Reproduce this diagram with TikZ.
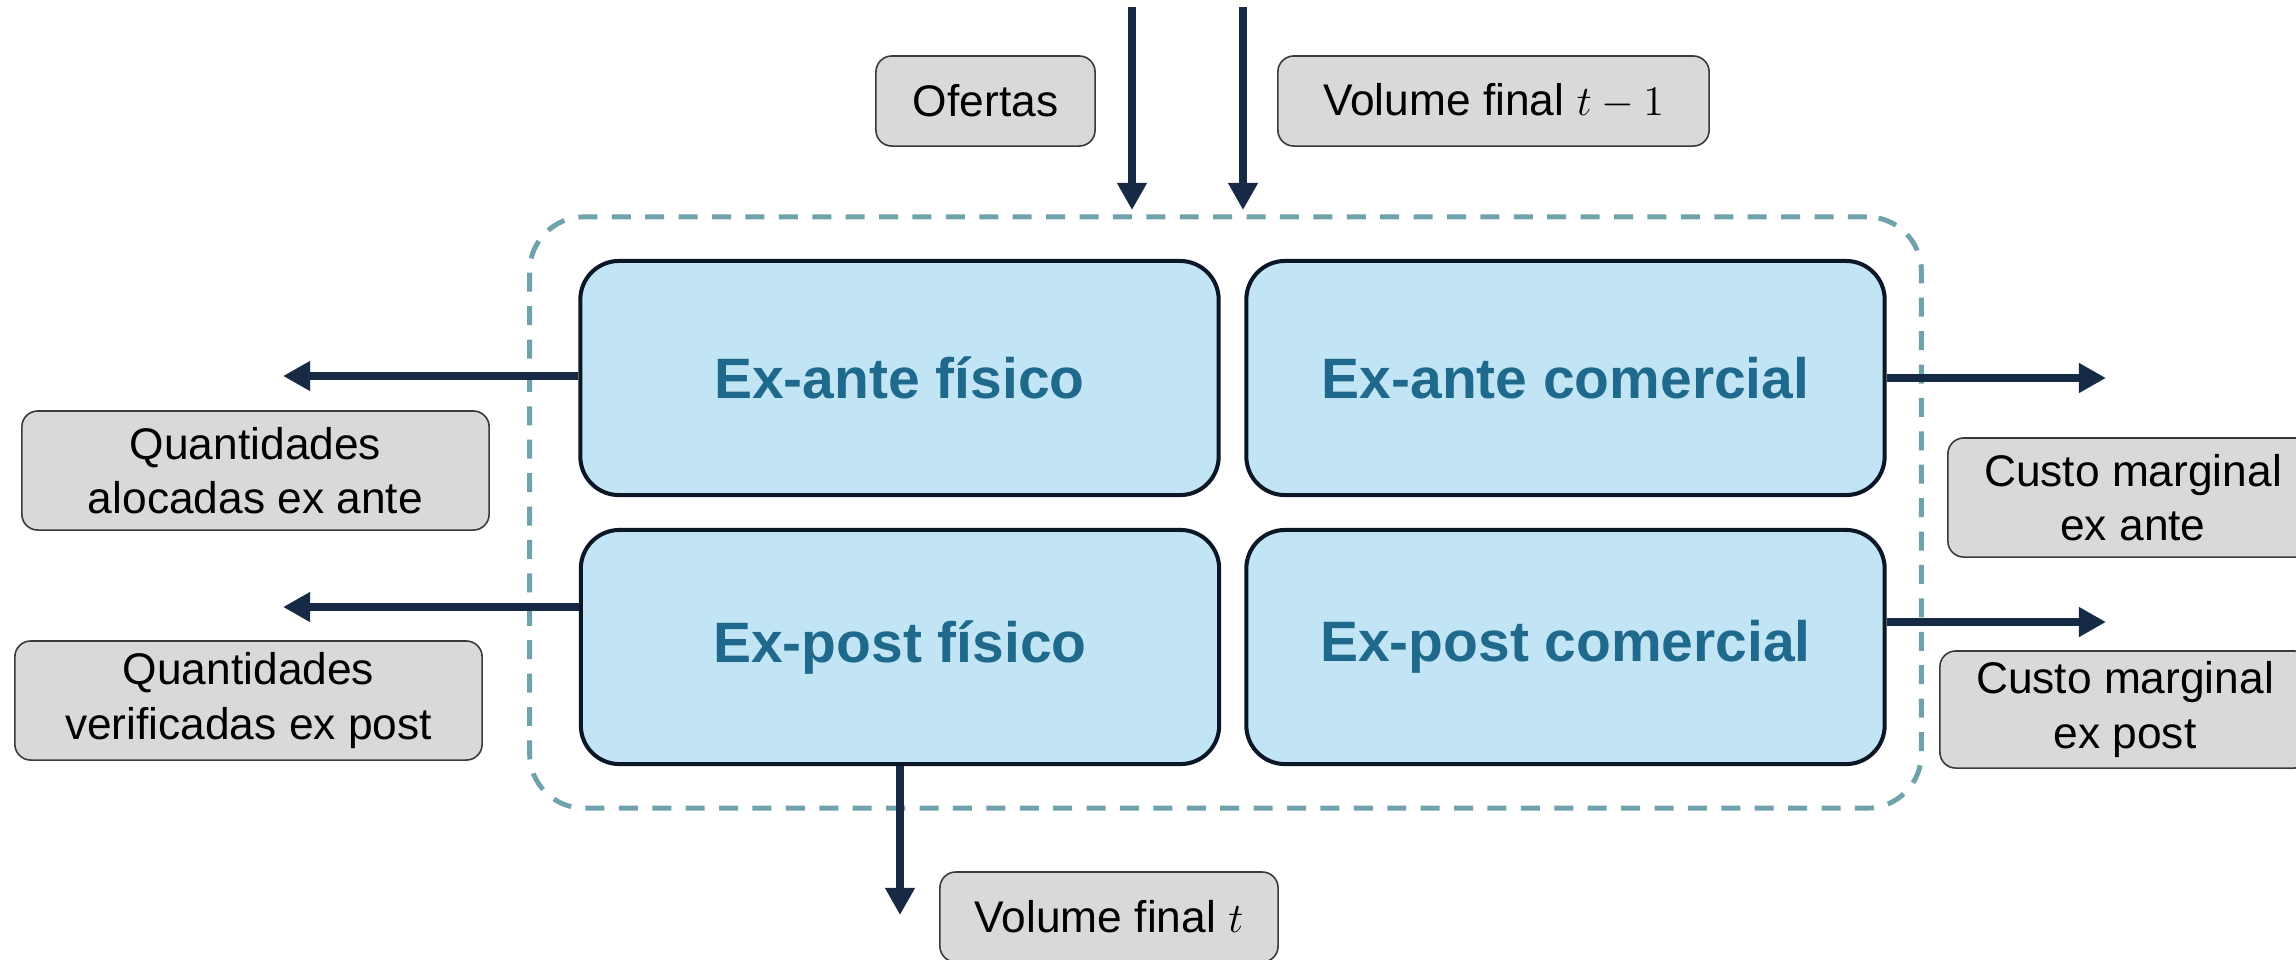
\documentclass[tikz,border=0pt]{standalone}
\usepackage{fontspec}
\setmainfont{Liberation Sans}
\usetikzlibrary{arrows.meta}
\definecolor{stageFill}{HTML}{C2E5F5}
\definecolor{stageText}{HTML}{1F6A8C}
\definecolor{stageLine}{HTML}{0B1626}
\definecolor{flowNavy}{HTML}{172A45}
\definecolor{frameTeal}{HTML}{6FA2AB}
\definecolor{tagFill}{HTML}{D9D9D9}
\definecolor{tagLine}{HTML}{3A3A3A}
\begin{document}
\begin{tikzpicture}[x=0.01cm,y=-0.01cm,
  stage/.style={draw=stageLine, line width=1.15pt, fill=stageFill, rounded corners=11pt,
    minimum width=6.38cm, minimum height=2.34cm, inner sep=0pt, text=stageText,
    font=\bfseries\fontsize{16.2}{19}\selectfont},
  tag/.style={draw=tagLine, line width=0.45pt, fill=tagFill, rounded corners=4.5pt,
    inner sep=0pt, align=center, font=\fontsize{12.6}{15.4}\selectfont},
  flow/.style={draw=flowNavy, line width=2.5pt, -{Triangle[length=7.7pt,width=8pt]}},
  frame/.style={draw=frameTeal, line width=1.4pt, dash pattern=on 5.4pt off 4.1pt,
    rounded corners=15.5pt, inner sep=0pt}
]
\useasboundingbox (0,0) rectangle (2296,959);
\clip (0,0) rectangle (2296,959);

% dashed frame around the four stages
\node[frame, minimum width=13.91cm, minimum height=5.91cm] (proc) at (1225.5,512.5) {};

% the four stages
\node[stage] (eaf) at (899.5,378) {Ex-ante físico};
\node[stage] (eac) at (1565.5,378) {Ex-ante comercial};
\node[stage] (epf) at (900,647) {Ex-post físico};
\node[stage] (epc) at (1565.5,647) {Ex-post comercial};

% inputs
\node[tag, minimum width=2.19cm, minimum height=0.90cm] (ofe) at (985.5,101) {Ofertas};
\node[tag, minimum width=4.31cm, minimum height=0.90cm] (vt1) at (1493.5,101) {Volume final $t-1$};

% outputs
\node[tag, minimum width=4.67cm, minimum height=1.19cm] (qa) at (255.5,470.5) {Quantidades\\alocadas ex ante};
\node[tag, minimum width=4.67cm, minimum height=1.19cm] (qv) at (248.5,700.5) {Quantidades\\verificadas ex post};
\node[tag, minimum width=3.70cm, minimum height=1.19cm] (cma) at (2133,497.5) {Custo marginal\\ex ante};
\node[tag, minimum width=3.70cm, minimum height=1.17cm] (cmp) at (2125,709.5) {Custo marginal\\ex post};
\node[tag, minimum width=3.38cm, minimum height=0.90cm] (vft) at (1109,917) {Volume final $t$};

% free arrow ends
\coordinate (ofeA) at (1132,7);
\coordinate (ofeB) at (1132,210);
\coordinate (vtA) at (1243,7);
\coordinate (vtB) at (1243,210);
\coordinate (qaTip) at (283,376);
\coordinate (qvTip) at (283,607);
\coordinate (cmaTip) at (2106,378);
\coordinate (cmpTip) at (2106,622);
\coordinate (vftTip) at (900,915);

% flows
\draw[flow] (ofeA) -- (ofeB);
\draw[flow] (vtA) -- (vtB);
\draw[flow] (eaf.west |- qaTip) -- (qaTip);
\draw[flow] (epf.west |- qvTip) -- (qvTip);
\draw[flow] (eac.east |- cmaTip) -- (cmaTip);
\draw[flow] (epc.east |- cmpTip) -- (cmpTip);
\draw[flow] (epf.south) -- (vftTip);
\end{tikzpicture}
\end{document}
